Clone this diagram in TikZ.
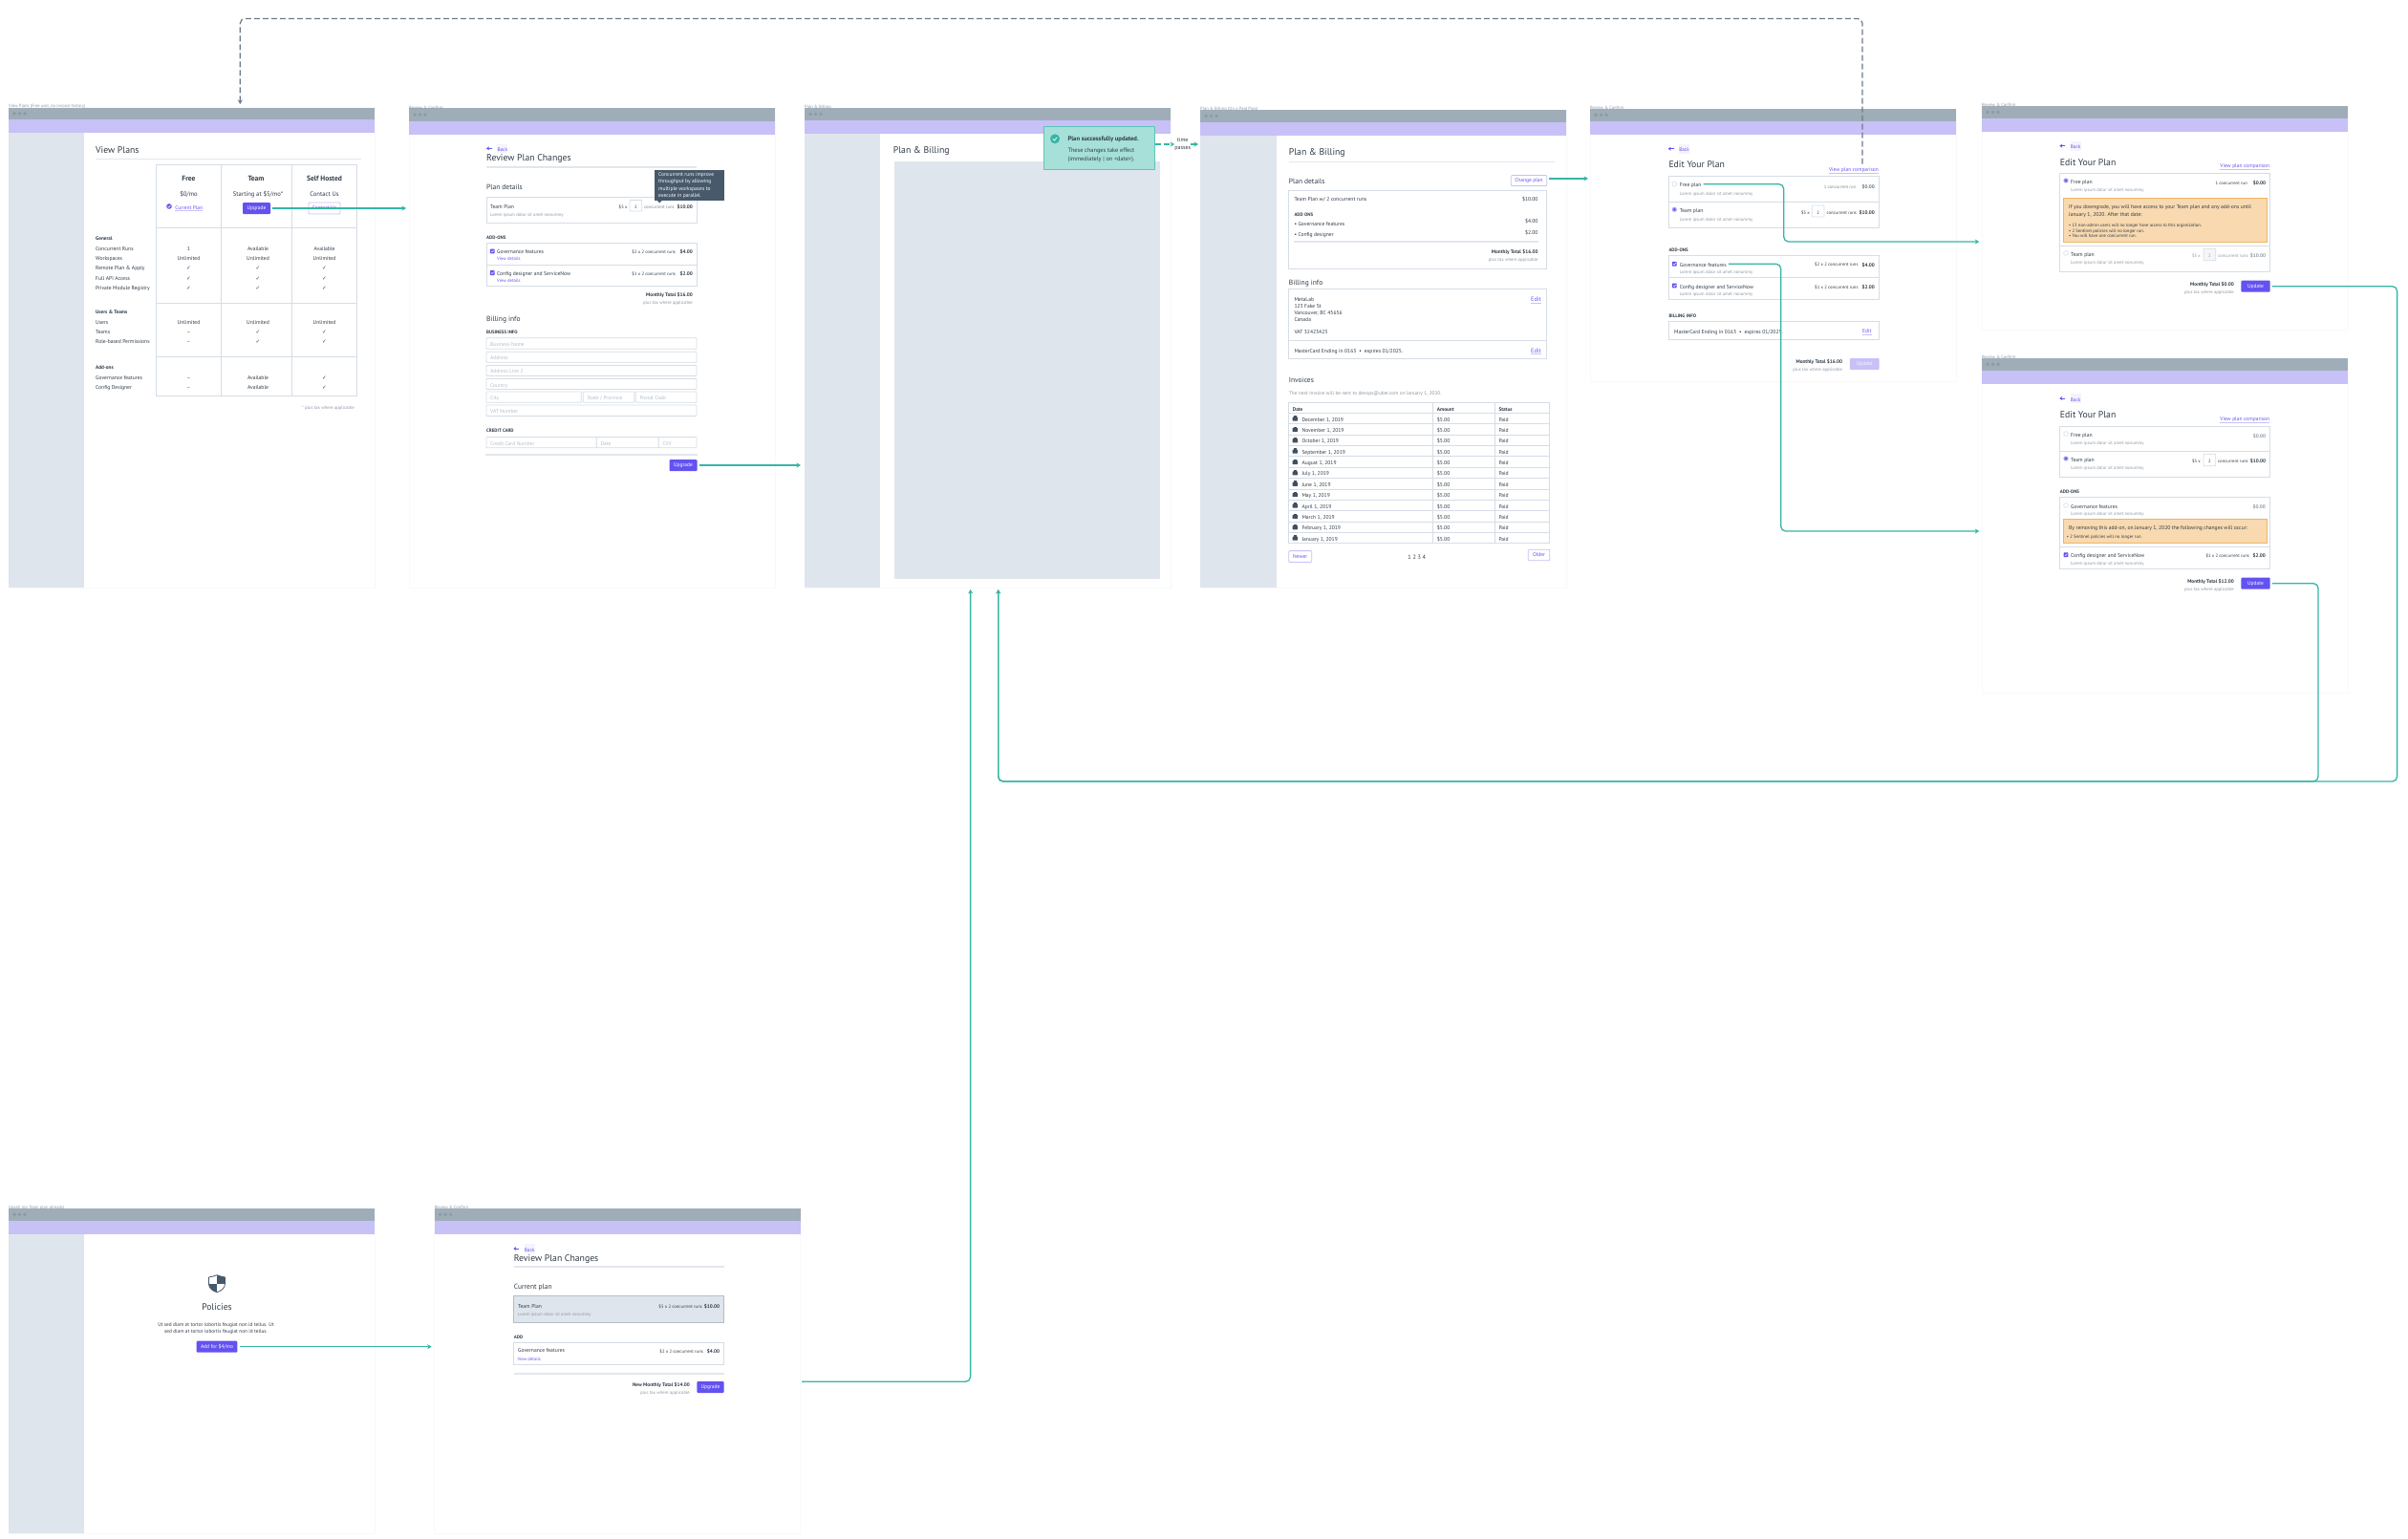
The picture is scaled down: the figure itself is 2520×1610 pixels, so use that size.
\documentclass[tikz,border=0pt]{standalone}
\usepackage{fontspec}
\setmainfont{PT Sans}
\newfontfamily\symfont{DejaVu Sans}
\usetikzlibrary{arrows.meta}
\definecolor{ink}{HTML}{2F3B47}
\definecolor{mutedink}{HTML}{8C98A5}
\definecolor{faint}{HTML}{B4BEC8}
\definecolor{barcol}{HTML}{9FADB8}
\definecolor{dotcol}{HTML}{8D9BA6}
\definecolor{navcol}{HTML}{C7C1F7}
\definecolor{sidecol}{HTML}{DFE5EC}
\definecolor{edgecol}{HTML}{D5DDE6}
\definecolor{violet}{HTML}{6352F0}
\definecolor{tealln}{HTML}{35B6A5}
\definecolor{toastcol}{HTML}{A6E0D8}
\definecolor{warncol}{HTML}{F8D9B0}
\definecolor{warnedge}{HTML}{EEB463}
\definecolor{slatecol}{HTML}{47596B}
\tikzset{
    plain/.style={inner sep=0pt, text=ink, font=\fontsize{5.6}{6.8}\selectfont},
    tx/.style={plain, anchor=west, text height=1.5ex, text depth=0.3ex},
    txr/.style={tx, anchor=east},
    txc/.style={tx, anchor=center},
    bd/.style={tx, font=\fontsize{5.25}{6.8}\selectfont\bfseries},
    bdr/.style={bd, anchor=east},
    bdc/.style={bd, anchor=center},
    lorem/.style={tx, text=mutedink, font=\fontsize{4.7}{6}\selectfont},
    loremr/.style={lorem, anchor=east},
    tiny/.style={tx, text=ink, font=\fontsize{4.7}{6}\selectfont},
    tinyr/.style={tiny, anchor=east},
    capsh/.style={tx, font=\fontsize{4.9}{6}\selectfont\bfseries},
    tag/.style={tx, text=mutedink, font=\fontsize{4.6}{6}\selectfont},
    hone/.style={tx, font=\fontsize{9.75}{11}\selectfont},
    htwo/.style={tx, font=\fontsize{7.5}{9}\selectfont},
    ph/.style={tx, text=faint, font=\fontsize{5.5}{7}\selectfont},
    lnk/.style={tx, text=violet, font=\fontsize{4.7}{6}\selectfont},
    lnkr/.style={lnk, anchor=east},
    ulined/.style={append after command={(\tikzlastnode.south west) edge[navcol, line width=0.6pt] (\tikzlastnode.south east)}},
    btn/.style={inner sep=0pt, fill=violet, text=white, rounded corners=1pt, font=\fontsize{5.5}{7}\selectfont, minimum width=29pt, minimum height=12pt},
    obtn/.style={btn, fill=white, draw=navcol, line width=0.8pt, text=violet},
    dbtn/.style={btn, fill=navcol, text=white!85!navcol},
    panel/.style={draw=edgecol, line width=1pt, fill=white},
    rulel/.style={draw=edgecol!70, line width=1.6pt},
    thinl/.style={draw=edgecol, line width=0.8pt},
    field/.style={draw=edgecol, line width=0.8pt, fill=white, rounded corners=0.6pt},
    warnbox/.style={draw=warnedge, line width=0.8pt, fill=warncol},
    flow/.style={draw=tealln, line width=1.3pt, -{Stealth[length=4.5pt, width=5pt]}, rounded corners=5pt, shorten <=2pt},
    backflow/.style={draw=slatecol!80, line width=1.2pt, dash pattern=on 6pt off 3pt, -{Stealth[length=4.5pt, width=5pt]}, rounded corners=5pt}
}
\begin{document}
\begin{tikzpicture}[x=1pt, y=-1pt]
    \path[use as bounding box, fill=white] (0,0) rectangle (2520,1610);
    \def\ck{{\symfont ✓}}

    % Screen frames
    \foreach \fn/\fx/\ft/\fg/\fp/\fb/\fl/\fname in {
        1/9/112.7/125/139/615/109.6/{View Plans (Free user, no invoice history)},
        2/428/113.4/126.5/141/615/111/{Review \& Confirm},
        3/842/113/126/140/615/110.7/{Plan \& Billing},
        4/1256/115.2/128/142/615/112.8/{Plan \& Billing (On a Paid Plan)},
        5/1664/114/126.7/140.7/399/111/{Review \& Confirm},
        6/2074/111/123.7/137.7/345/108.3/{Review \& Confirm},
        7/2074/375/387.7/402/725/372.3/{Review \& Confirm},
        8/9/1265/1277.7/1292/1605/1262.3/{Upsell (on Team plan already)},
        9/454.7/1265/1277.7/1292/1605/1262.3/{Review \& Confirm}} {
        \draw[edgecol!18, line width=0.5pt] (\fx,\ft) rectangle (\fx+383,\fb);
        \fill[barcol] (\fx,\ft) rectangle (\fx+383,\fg);
        \fill[navcol] (\fx,\fg) rectangle (\fx+383,\fp);
        \foreach \dx in {6,11.5,17}
            \fill[dotcol] (\fx+\dx,{(\ft+\fg)/2}) circle (1.9pt);
        \node[tag] (frame\fn) at (\fx,\fl) {\fname};
    }
    % Sidebars
    \fill[sidecol] (9,139) rectangle (88,615);
    \fill[sidecol] (842,140) rectangle (921,615);
    \fill[sidecol] (1256,142) rectangle (1336,615);
    \fill[sidecol] (9,1292) rectangle (88,1605);

    % Back links
    \foreach \bn/\bx/\by in {2/512/155.4, 5/1748.7/155.7, 6/2158.3/152.7, 7/2158.3/417, 9/540.3/1307} {
        \draw[violet, line width=1pt, -{Stealth[length=3pt, width=4pt]}] (\bx+3,\by) -- (\bx-3,\by);
        \node[lnk, fill=violet!7, inner sep=0.4pt, font=\fontsize{5.2}{6.5}\selectfont] (back\bn) at (\bx+8,\by) {Back};
    }

    % View Plans
    \node[hone] (s1head) at (100,157) {View Plans};
    \draw[rulel, line width=0.8pt] (99.5,166.5) -- (378,166.5);
    \draw[edgecol, line width=1pt] (163.5,172) rectangle (373.5,414.4);
    \draw[edgecol, line width=1pt] (231.5,172) -- (231.5,414.4);
    \draw[edgecol, line width=1pt] (305.5,172) -- (305.5,414.4);
    \foreach \ry in {238.4,317.6,373.8}
        \draw[edgecol, line width=1pt] (163.5,\ry) -- (373.5,\ry);
    \node[bdc, font=\fontsize{7.5}{9}\selectfont\bfseries] (s1free) at (197.5,186.8) {Free};
    \node[bdc, font=\fontsize{7.5}{9}\selectfont\bfseries] (s1team) at (268,186.8) {Team};
    \node[bdc, font=\fontsize{7.5}{9}\selectfont\bfseries] (s1self) at (339.5,186.8) {Self Hosted};
    \node[txc, font=\fontsize{6.6}{8}\selectfont] (s1pfree) at (197.5,202) {\$0/mo};
    \node[txc, font=\fontsize{6.6}{8}\selectfont] (s1pteam) at (270,202) {Starting at \$5/mo*};
    \node[txc, font=\fontsize{6.6}{8}\selectfont] (s1pself) at (339.5,202) {Contact Us};
    \fill[violet] (177,216) circle (2.8pt);
    \draw[white, line width=0.6pt] (175.6,216) -- (176.7,217.2) -- (178.5,214.9);
    \node[lnk, anchor=center, ulined, font=\fontsize{5.4}{6.5}\selectfont] (s1current) at (197.7,216) {Current Plan};
    \node[btn] (s1upgrade) at (268.5,218) {Upgrade};
    \node[obtn, minimum width=33pt] (s1contact) at (339.5,218) {Contact Us};
    \node[bd] (s1gen) at (100,248.8) {General};
    \node[bd] (s1usr) at (100,325.6) {Users \& Teams};
    \node[bd] (s1add) at (100,383.8) {Add-ons};
    \foreach \rn/\ry/\rname/\ca/\cb/\cc in {
        1/259/Concurrent Runs/1/Available/Available,
        2/269.4/Workspaces/Unlimited/Unlimited/Unlimited,
        3/279.8/{Remote Plan \& Apply}/\ck/\ck/\ck,
        4/290/Full API Access/\ck/\ck/\ck,
        5/300.4/Private Module Registry/\ck/\ck/\ck,
        6/336/Users/Unlimited/Unlimited/Unlimited,
        7/346/Teams/--/\ck/\ck,
        8/356.6/Role-based Permissions/--/\ck/\ck,
        9/394/Governance features/--/Available/\ck,
        10/404.4/Config Designer/--/Available/\ck} {
        \node[tx] (s1row\rn) at (100,\ry) {\rname};
        \node[txc] (s1a\rn) at (197.5,\ry) {\ca};
        \node[txc] (s1b\rn) at (270,\ry) {\cb};
        \node[txc] (s1c\rn) at (339.5,\ry) {\cc};
    }
    \node[loremr] (s1tax) at (371,425) {* plus tax where applicable};

    % Review Plan Changes
    \node[hone] (s2head) at (509,165.8) {Review Plan Changes};
    \draw[rulel] (509,174.7) -- (729,174.7);
    \node[htwo] (s2plan) at (509,195.4) {Plan details};
    \draw[panel] (509,206.4) rectangle (729,233);
    \node[tx] (s2team) at (513,215.4) {Team Plan};
    \node[lorem] (s2lorem) at (513,223.6) {Lorem ipsum dolor sit amet nonummy};
    \node[tinyr] (s2rate) at (656.7,215.4) {\$5 x};
    \draw[field] (659,209.5) rectangle (671.7,221);
    \node[tiny, anchor=center] (s2qty) at (665.3,215.4) {2};
    \node[tiny, text=mutedink!80!ink] (s2runs) at (674,215.4) {concurrent runs};
    \node[bdr] (s2cost) at (725,215.4) {\$10.00};
    \fill[slatecol] (685,177.8) rectangle (758,210.2);
    \fill[slatecol] (688,210) -- (692.5,210) -- (690.2,212.5) -- cycle;
    \node[plain, anchor=west, text=white, font=\fontsize{5.5}{7.2}\selectfont, align=left] (s2tip) at (689,194)
        {Concurrent runs improve\\throughput by allowing\\multiple workspaces to\\execute in parallel.};
    \node[capsh] (s2addon) at (509,247) {ADD-ONS};
    \draw[panel] (509,254.6) rectangle (729,299.7);
    \draw[thinl] (509,277.4) -- (729,277.4);
    \node[tx] (s2gov) at (520,262.9) {Governance features};
    \node[lnk] (s2govv) at (520,269.8) {View details};
    \node[tinyr] (s2govr) at (707,262) {\$2 x 2 concurrent runs};
    \node[bdr] (s2govc) at (725,262.9) {\$4.00};
    \node[tx] (s2cfg) at (520,285.6) {Config designer and ServiceNow};
    \node[lnk] (s2cfgv) at (520,292.5) {View details};
    \node[tinyr] (s2cfgr) at (707,285.6) {\$1 x 2 concurrent runs};
    \node[bdr] (s2cfgc) at (725,285.6) {\$2.00};
    \node[bdr] (s2total) at (725,307.7) {Monthly Total \$16.00};
    \node[loremr] (s2tax) at (725,315) {plus tax where applicable};
    \node[htwo] (s2bill) at (509,333) {Billing info};
    \node[capsh] (s2biz) at (509,346) {BUSINESS INFO};
    \foreach \fn/\fa/\fc/\fr/\fs/\ftext in {
        1/509/353.8/729/365.2/Business Name,
        2/509/368.3/729/379.3/Address,
        3/509/382.4/729/393.4/Address Line 2,
        4/509/396.5/729/407.5/Country,
        5/509/410/608.3/421.3/City,
        6/610.3/410/663.7/421.3/{State / Province},
        7/665.3/410/729/421.3/Postal Code,
        8/509/424/729/435.4/VAT Number,
        9/509/457.5/624.3/468.8/Credit Card Number,
        10/624.3/457.5/689.3/468.8/Date,
        11/689.3/457.5/729/468.8/CVV} {
        \draw[field] (\fa,\fc) rectangle (\fr,\fs);
        \node[ph] (s2f\fn) at (\fa+4,{(\fc+\fs)/2}) {\ftext};
    }
    \node[capsh] (s2card) at (509,449) {CREDIT CARD};
    \draw[rulel] (508,475.7) -- (729.5,475.7);
    \node[btn] (s2upgrade) at (715,487) {Upgrade};

    % Plan & Billing with toast
    \node[hone] (s3head) at (934.7,157.7) {Plan \& Billing};
    \fill[sidecol] (935.7,169) rectangle (1214,605.8);
    \node[draw=tealln!80, line width=1pt, fill=toastcol, inner sep=0pt, minimum width=115.7pt, minimum height=45.3pt] (toast) at (1150.8,155.3) {};
    \fill[tealln] (1104,145.3) circle (5pt);
    \draw[white, line width=0.7pt] (1101.8,145.4) -- (1103.4,147) -- (1106.2,143.8);
    \node[bd, font=\fontsize{6.6}{8}\selectfont\bfseries] (toastt) at (1117.3,144.7) {Plan successfully updated.};
    \node[tx, font=\fontsize{6.3}{8}\selectfont] (toastb) at (1117.3,156.3) {These changes take effect};
    \node[tx, font=\fontsize{6.3}{8}\selectfont] (toastc) at (1117.3,165) {(immediately | on <date>).};
    \node[plain, align=center, fill=white, font=\fontsize{6}{8.6}\selectfont] (timep) at (1237.7,151) {time\\passes};

    % Plan & Billing paid
    \node[hone] (s4head) at (1348.7,159.8) {Plan \& Billing};
    \draw[rulel, line width=0.8pt] (1348.7,169.3) -- (1627,169.3);
    \node[htwo] (s4plan) at (1348.7,189.6) {Plan details};
    \node[obtn, minimum width=37.4pt, minimum height=11pt] (s4change) at (1600,189) {Change plan};
    \draw[panel] (1348.7,199) rectangle (1618.7,281.2);
    \node[tx] (s4team) at (1354.3,207.5) {Team Plan w/ 2 concurrent runs};
    \node[txr] (s4teamc) at (1609.7,207.5) {\$10.00};
    \node[capsh] (s4addon) at (1354.3,223.7) {ADD ONS};
    \node[tx] (s4gov) at (1354.3,233) {• Governance features};
    \node[txr] (s4govc) at (1609.7,230.8) {\$4.00};
    \node[tx] (s4cfg) at (1354.3,244.3) {• Config designer};
    \node[txr] (s4cfgc) at (1609.7,242.3) {\$2.00};
    \draw[rulel] (1354,252.8) -- (1610,252.8);
    \node[bdr] (s4total) at (1609.7,262.2) {Monthly Total \$16.00};
    \node[loremr] (s4tax) at (1609.7,270) {plus tax where applicable};
    \node[htwo] (s4bill) at (1348.7,295) {Billing info};
    \draw[panel] (1348.7,302.8) rectangle (1618.7,375.5);
    \draw[thinl] (1348.7,356.2) -- (1618.7,356.2);
    \node[tx] (s4a1) at (1354.3,312) {MetaLab};
    \node[tx] (s4a2) at (1354.3,319) {123 Fake St};
    \node[tx] (s4a3) at (1354.3,326) {Vancouver, BC 45656};
    \node[tx] (s4a4) at (1354.3,333.2) {Canada};
    \node[tx] (s4a5) at (1354.3,346) {VAT 32423423};
    \node[tx] (s4card) at (1354.3,366) {MasterCard Ending in 0163 ~•~ expires 01/2025.};
    \node[lnkr, ulined, font=\fontsize{6.3}{8}\selectfont] (s4edita) at (1613,312.6) {Edit};
    \node[lnkr, ulined, font=\fontsize{6.3}{8}\selectfont] (s4editb) at (1613,366) {Edit};
    \node[htwo] (s4inv) at (1348.7,397.4) {Invoices};
    \node[tx, text=mutedink, font=\fontsize{5.3}{7}\selectfont] (s4next) at (1348.7,410) {The next invoice will be sent to devops@uber.com on January 1, 2020.};
    % Invoice table
    \draw[edgecol, line width=0.8pt] (1348.7,421.4) rectangle (1621.7,568.8);
    \draw[edgecol, line width=0.8pt] (1499.3,421.4) -- (1499.3,568.8);
    \draw[edgecol, line width=0.8pt] (1564.3,421.4) -- (1564.3,568.8);
    \node[bd] (s4hd) at (1352.7,427) {Date};
    \node[bd] (s4ha) at (1503.7,427) {Amount};
    \node[bd] (s4hs) at (1568.3,427) {Status};
    \foreach \i/\dname in {0/{December 1, 2019},1/{November 1, 2019},2/{October 1, 2019},3/{September 1, 2019},4/{August 1, 2019},5/{July 1, 2019},6/{June 1, 2019},7/{May 1, 2019},8/{April 1, 2019},9/{March 1, 2019},10/{February 1, 2019},11/{January 1, 2019}} {
        \pgfmathsetmacro\rowy{432.3+\i*11.375}
        \pgfmathsetmacro\rowc{\rowy+5.7}
        \draw[edgecol, line width=0.8pt] (1348.7,\rowy) -- (1621.7,\rowy);
        \fill[slatecol!90!black, rounded corners=0.6pt] (1352.6,\rowc-1.6) rectangle (1358,\rowc+2.6);
        \fill[slatecol!90!black] (1353.8,\rowc-2.8) rectangle (1356.6,\rowc);
        \node[tx] (s4d\i) at (1362.3,\rowc) {\dname};
        \node[tx] (s4m\i) at (1503.7,\rowc) {\$5.00};
        \node[tx] (s4p\i) at (1568.3,\rowc) {Paid};
    }
    \node[obtn, minimum width=24pt, minimum height=11.8pt] (s4newer) at (1360.7,582.5) {Newer};
    \node[txc, font=\fontsize{6.2}{8}\selectfont] (s4pages) at (1482.7,582.3) {1 2 3 4};
    \node[obtn, minimum width=22.4pt, minimum height=11.5pt] (s4older) at (1610.5,581) {Older};

    % Edit Your Plan
    \node[hone] (s5head) at (1746.3,172.7) {Edit Your Plan};
    \node[lnkr, ulined, font=\fontsize{5.5}{7}\selectfont] (s5comp) at (1966,176.3) {View plan comparison};
    \draw[panel] (1746.3,184.7) rectangle (1966.7,238.7);
    \draw[thinl] (1746.3,211.7) -- (1966.7,211.7);
    \node[tx] (s5free) at (1757.7,192.7) {Free plan};
    \node[lorem] (s5freel) at (1757.7,201) {Lorem ipsum dolor sit amet nonummy};
    \node[tinyr, text=mutedink!80!ink] (s5freer) at (1942.3,194) {1 concurrent run};
    \node[bdr, text=mutedink!60!ink] (s5freec) at (1962,194) {\$0.00};
    \node[tx] (s5team) at (1757.7,219.3) {Team plan};
    \node[lorem] (s5teaml) at (1757.7,228) {Lorem ipsum dolor sit amet nonummy};
    \node[tinyr] (s5rate) at (1894,221) {\$5 x};
    \draw[field] (1896.3,215) rectangle (1909,227);
    \node[tiny, anchor=center] (s5qty) at (1902.6,221) {2};
    \node[tiny] (s5runs) at (1911.3,221) {concurrent runs};
    \node[bdr] (s5teamc) at (1962,221) {\$10.00};
    \node[capsh] (s5addon) at (1746.3,260.7) {ADD-ONS};
    \draw[panel] (1746.3,267.7) rectangle (1966.7,313.3);
    \draw[thinl] (1746.3,290.7) -- (1966.7,290.7);
    \node[tx] (s5gov) at (1757.7,276.3) {Governance features};
    \node[lorem] (s5govl) at (1757.7,283.3) {Lorem ipsum dolor sit amet nonummy};
    \node[tinyr] (s5govr) at (1944.7,275.7) {\$2 x 2 concurrent runs};
    \node[bdr] (s5govc) at (1962,276.3) {\$4.00};
    \node[tx] (s5cfg) at (1757.7,299) {Config designer and ServiceNow};
    \node[lorem] (s5cfgl) at (1757.7,306.3) {Lorem ipsum dolor sit amet nonummy};
    \node[tinyr] (s5cfgr) at (1944.7,299) {\$1 x 2 concurrent runs};
    \node[bdr] (s5cfgc) at (1962,299) {\$2.00};
    \node[capsh] (s5bill) at (1746.3,329.3) {BILLING INFO};
    \draw[panel] (1746.3,336.7) rectangle (1966.7,355.7);
    \node[tx] (s5card) at (1752,346) {MasterCard Ending in 0163 ~•~ expires 01/2025.};
    \node[lnkr, ulined, font=\fontsize{5.6}{7}\selectfont] (s5edit) at (1958.7,345.5) {Edit};
    \node[bdr] (s5total) at (1928.3,377) {Monthly Total \$16.00};
    \node[loremr] (s5tax) at (1928.3,385) {plus tax where applicable};
    \node[dbtn, minimum width=30.7pt] (s5update) at (1951.3,381) {Update};

    % Edit, downgrade warning
    \node[hone] (s6head) at (2155.7,170) {Edit Your Plan};
    \node[lnkr, ulined, font=\fontsize{5.5}{7}\selectfont] (s6comp) at (2375.3,172.7) {View plan comparison};
    \draw[panel] (2155.7,181.3) rectangle (2375.7,284.3);
    \draw[thinl] (2155.7,257.3) -- (2375.7,257.3);
    \node[tx] (s6free) at (2167,189) {Free plan};
    \node[lorem] (s6freel) at (2167,197.3) {Lorem ipsum dolor sit amet nonummy};
    \node[tinyr] (s6freer) at (2352,190.3) {1 concurrent run};
    \node[bdr] (s6freec) at (2371.3,190.3) {\$0.00};
    \draw[warnbox] (2159,207) rectangle (2372.3,253.7);
    \node[tx] (s6w1) at (2165,215.7) {If you downgrade, you will have access to your Team plan and any add-ons until};
    \node[tx] (s6w2) at (2165,223) {January 1, 2020. After that date:};
    \node[tiny] (s6w3) at (2165,234.3) {• 13 non-admin users will no longer have access to this organization.};
    \node[tiny] (s6w4) at (2165,240) {• 2 Sentinel policies will no longer run.};
    \node[tiny] (s6w5) at (2165,245.7) {• You will have one concurrent run.};
    \node[tx] (s6team) at (2167,265) {Team plan};
    \node[lorem] (s6teaml) at (2167,273.3) {Lorem ipsum dolor sit amet nonummy};
    \node[loremr] (s6rate) at (2303,266.3) {\$5 x};
    \draw[field, fill=sidecol!35] (2306,260.3) rectangle (2318.7,272.7);
    \node[lorem, anchor=center] (s6qty) at (2312.3,266.3) {2};
    \node[lorem] (s6runs) at (2321,266.3) {concurrent runs};
    \node[bdr, text=mutedink] (s6teamc) at (2371.3,266.3) {\$10.00};
    \node[bdr] (s6total) at (2338,296.3) {Monthly Total \$0.00};
    \node[loremr] (s6tax) at (2338,304) {plus tax where applicable};
    \node[btn, minimum width=30.4pt] (s6update) at (2360.5,299.7) {Update};

    % Edit, add-on warning
    \node[hone] (s7head) at (2155.7,434) {Edit Your Plan};
    \node[lnkr, ulined, font=\fontsize{5.5}{7}\selectfont] (s7comp) at (2375.3,437.7) {View plan comparison};
    \draw[panel] (2155.7,446) rectangle (2375.7,499.3);
    \draw[thinl] (2155.7,472.7) -- (2375.7,472.7);
    \node[tx] (s7free) at (2167,454) {Free plan};
    \node[lorem] (s7freel) at (2167,462.3) {Lorem ipsum dolor sit amet nonummy};
    \node[bdr, text=mutedink] (s7freec) at (2371.3,455.3) {\$0.00};
    \node[tx] (s7team) at (2167,480) {Team plan};
    \node[lorem] (s7teaml) at (2167,488.3) {Lorem ipsum dolor sit amet nonummy};
    \node[tinyr] (s7rate) at (2303,481.3) {\$5 x};
    \draw[field] (2306,475.3) rectangle (2318.7,487.7);
    \node[tiny, anchor=center] (s7qty) at (2312.3,481.3) {2};
    \node[tiny] (s7runs) at (2321,481.3) {concurrent runs};
    \node[bdr] (s7teamc) at (2371.3,481.3) {\$10.00};
    \node[capsh] (s7addon) at (2155.7,513.3) {ADD-ONS};
    \draw[panel] (2155.7,520.3) rectangle (2375.7,595.3);
    \draw[thinl] (2155.7,572.3) -- (2375.7,572.3);
    \node[tx] (s7gov) at (2167,529) {Governance features};
    \node[lorem] (s7govl) at (2167,536) {Lorem ipsum dolor sit amet nonummy};
    \node[bdr, text=mutedink] (s7govc) at (2371,529) {\$0.00};
    \draw[warnbox] (2159,543.7) rectangle (2372.3,568.7);
    \node[tx] (s7w1) at (2165,551.3) {By removing this add-on, on January 1, 2020 the following changes will occur:};
    \node[tiny] (s7w2) at (2162.7,560) {• 2 Sentinel policies will no longer run.};
    \node[tx] (s7cfg) at (2167,580.7) {Config designer and ServiceNow};
    \node[lorem] (s7cfgl) at (2167,588) {Lorem ipsum dolor sit amet nonummy};
    \node[tinyr] (s7cfgr) at (2354,580.7) {\$1 x 2 concurrent runs};
    \node[bdr] (s7cfgc) at (2371,580.7) {\$2.00};
    \node[bdr] (s7total) at (2338,607) {Monthly Total \$12.00};
    \node[loremr] (s7tax) at (2338,615) {plus tax where applicable};
    \node[btn, minimum width=30.4pt] (s7update) at (2360.5,610.7) {Update};

    % Upsell
    \draw[slatecol, line width=0.8pt, fill=white] (218.5,1337) .. controls (222,1336.5) and (225,1335.5) .. (227,1334.7) .. controls (229,1335.5) and (232,1336.5) .. (235.5,1337) -- (235.5,1344) .. controls (235.5,1348.5) and (231,1351.5) .. (227,1352.7) .. controls (223,1351.5) and (218.5,1348.5) .. (218.5,1344) -- cycle;
    \begin{scope}
        \clip (218.5,1337) .. controls (222,1336.5) and (225,1335.5) .. (227,1334.7) .. controls (229,1335.5) and (232,1336.5) .. (235.5,1337) -- (235.5,1344) .. controls (235.5,1348.5) and (231,1351.5) .. (227,1352.7) .. controls (223,1351.5) and (218.5,1348.5) .. (218.5,1344) -- cycle;
        \fill[slatecol] (227,1334) rectangle (236,1344);
        \fill[slatecol] (218,1344) rectangle (227,1353);
    \end{scope}
    \node[txc, font=\fontsize{9.6}{11}\selectfont] (s8head) at (227,1368) {Policies};
    \node[txc, font=\fontsize{5.3}{7}\selectfont] (s8l1) at (226,1385) {Ut sed diam at tortor lobortis feugiat non id tellus. Ut};
    \node[txc, font=\fontsize{5.3}{7}\selectfont] (s8l2) at (226,1392.3) {sed diam at tortor lobortis feugiat non id tellus.};
    \node[btn, minimum width=42.6pt] (s8add) at (227,1409.7) {Add for \$4/mo};

    % Review, upsell
    \node[hone] (s9head) at (537.7,1317) {Review Plan Changes};
    \draw[rulel] (537.7,1326) -- (757.7,1326);
    \node[htwo] (s9plan) at (537.7,1346.7) {Current plan};
    \draw[draw=barcol!80, line width=1pt, fill=sidecol] (537.7,1356.7) rectangle (757.7,1384);
    \node[tx] (s9team) at (542,1366) {Team Plan};
    \node[lorem] (s9teaml) at (542,1374.7) {Lorem ipsum dolor sit amet nonummy};
    \node[tinyr] (s9rate) at (735,1366) {\$5 x 2 concurrent runs};
    \node[bdr] (s9cost) at (753.3,1366) {\$10.00};
    \node[capsh] (s9add) at (537.7,1398.3) {ADD};
    \draw[panel] (537.7,1405.3) rectangle (757.7,1428.3);
    \node[tx] (s9gov) at (542,1412.7) {Governance features};
    \node[lnk] (s9view) at (541.3,1421.7) {View details};
    \node[tinyr] (s9govr) at (736,1413.3) {\$2 x 2 concurrent runs};
    \node[bdr] (s9govc) at (753.3,1413.3) {\$4.00};
    \draw[rulel] (537.7,1438) -- (757.7,1438);
    \node[bdr] (s9total) at (722,1448.3) {New Monthly Total \$14.00};
    \node[loremr] (s9tax) at (722,1456.3) {plus tax where applicable};
    \node[btn, minimum width=28.4pt] (s9upgrade) at (743.5,1452) {Upgrade};

    % Radios and checkboxes
    \foreach \rx/\ry in {1752.3/192.7, 2162/265, 2162/454, 2162/529} {
        \draw[edgecol, line width=0.6pt, fill=white] (\rx,\ry) circle (2.4pt);
    }
    \foreach \rx/\ry in {1752.3/219.3, 2162/189, 2162/480} {
        \fill[violet!55] (\rx,\ry) circle (2.6pt);
        \fill[violet] (\rx,\ry) circle (1.3pt);
    }
    \foreach \cx/\cy in {515.3/262.9, 515.3/285.6, 1752.3/276.3, 1752.3/299, 2162/580.7} {
        \fill[violet, rounded corners=0.6pt] (\cx-2.4,\cy-2.4) rectangle (\cx+2.4,\cy+2.4);
        \draw[white, line width=0.5pt] (\cx-1.2,\cy) -- (\cx-0.2,\cy+1) -- (\cx+1.3,\cy-1);
    }

    % Connector ends
    \coordinate (s2in) at (425,218);
    \coordinate (s3in) at (838,487);
    \coordinate (s4in) at (1254,151);
    \coordinate (s5in) at (1662,186.9);
    \coordinate (s6in) at (2071.3,253);
    \coordinate (s7in) at (2071.3,556);
    \coordinate (s9in) at (451.7,1409.7);
    \coordinate (s1top) at (251.3,109);
    \coordinate (s3upa) at (1015.6,617);
    \coordinate (s3upb) at (1044.7,617);
    \coordinate (s9out) at (839,1446.3);

    % Connectors
    \draw[flow] (s1upgrade.east) -- (s2in);
    \draw[flow] (s2upgrade.east) -- (s3in);
    \draw[flow, shorten <=0pt, dash pattern=on 6pt off 3pt] (toast.east |- timep.west) -- (timep.west);
    \draw[flow, shorten <=0pt] (timep.east) -- (s4in);
    \draw[flow] (s4change.east |- s5in) -- (s5in);
    \draw[flow] (s5free.east) -| (1866.7,253) -- (s6in);
    \draw[flow] (s5gov.east) -| (1863.7,556) -- (s7in);
    \draw[flow] (s6update.east) -| (2508.6,818) -- (1044.7,818) -- (s3upb);
    \draw[flow] (s7update.east) -| (2426,818) -- (1044.7,818) -- (s3upb);
    \draw[flow] (s8add.east) -- (s9in);
    \draw[flow, shorten <=0pt] (s9out) -| (s3upa);
    \draw[backflow] (s5comp.north -| 1949,170) -- (1949,19.5) -- (251.3,19.5) -- (s1top);
\end{tikzpicture}
\end{document}
